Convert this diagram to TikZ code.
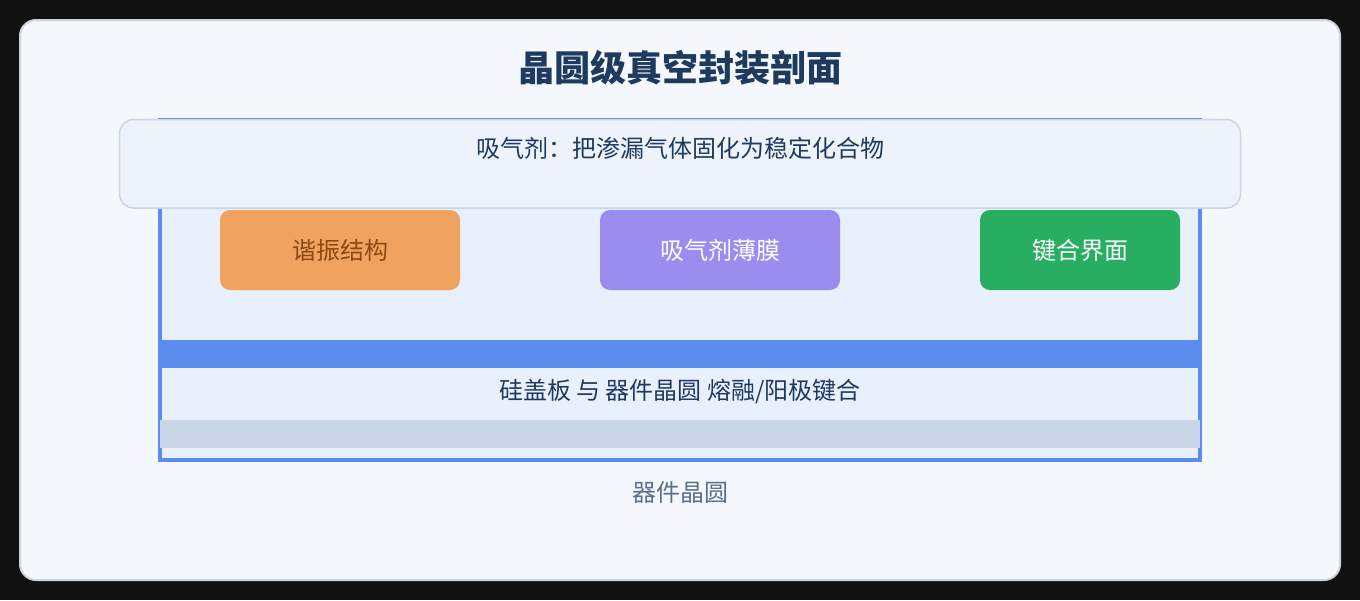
\documentclass[tikz,border=0pt]{standalone}
\usepackage{fontspec}
\setmainfont{Noto Sans CJK SC}
\definecolor{pagebg}{HTML}{111111}
\definecolor{cardfill}{HTML}{F4F7FC}
\definecolor{cardline}{HTML}{CBD5E1}
\definecolor{cavity}{HTML}{E8F0FE}
\definecolor{blueline}{HTML}{5B8DEF}
\definecolor{getfill}{HTML}{EDF2FB}
\definecolor{getline}{HTML}{C8D6E8}
\definecolor{orangebox}{HTML}{F0A35E}
\definecolor{orangetext}{HTML}{8A4A12}
\definecolor{purplebox}{HTML}{9B8DF0}
\definecolor{greenbox}{HTML}{27AE60}
\definecolor{graybandc}{HTML}{C9D6E5}
\definecolor{titlec}{HTML}{1E3A5F}
\definecolor{mutedc}{HTML}{5A6F8A}
\tikzset{
  partbox/.style={rounded corners=10pt, inner sep=0pt, minimum height=80pt, font=\fontsize{24}{28}\selectfont},
  txt/.style={inner sep=0pt, font=\fontsize{24}{28}\selectfont, text=titlec},
}
\begin{document}
\begin{tikzpicture}[x=1pt,y=-1pt]
\useasboundingbox (0,0) rectangle (1360,600);
\fill[pagebg] (0,0) rectangle (1360,600);
\draw[cardline, line width=2pt, fill=cardfill, rounded corners=16pt] (20,20) rectangle (1340,580);
\node[inner sep=0pt, text=titlec, font=\fontsize{36}{42}\selectfont\bfseries] (title) at (680,68) {晶圆级真空封装剖面};
% cavity / cap outline
\draw[blueline, line width=4pt, fill=cavity] (160,120) rectangle (1200,460);
\fill[blueline] (162,340) rectangle (1198,368);
\fill[graybandc] (160,420) rectangle (1200,448);
\node[txt] (bond) at (680,391) {硅盖板 与 器件晶圆 熔融/阳极键合};
% getter banner
\draw[getline, line width=1.5pt, fill=getfill, rounded corners=14pt] (119.5,119.5) rectangle (1240.5,208);
\node[txt] (getter) at (680,148) {吸气剂：把渗漏气体固化为稳定化合物};
% parts
\node[partbox, fill=orangebox, text=orangetext, minimum width=240pt] (reso) at (340,250) {谐振结构};
\node[partbox, fill=purplebox, text=white, minimum width=240pt] (film) at (720,250) {吸气剂薄膜};
\node[partbox, fill=greenbox, text=white, minimum width=200pt] (bondif) at (1080,250) {键合界面};
\node[txt, text=mutedc] (wafer) at (680,492) {器件晶圆};
\end{tikzpicture}
\end{document}
